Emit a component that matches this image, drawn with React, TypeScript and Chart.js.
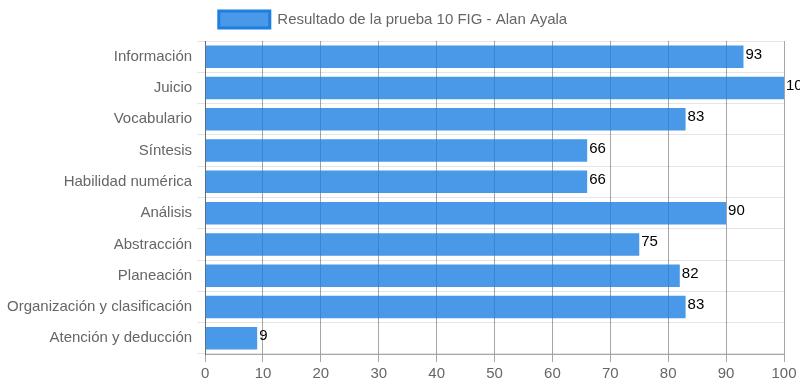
import React, { useEffect, useRef } from "react";
import { Chart, registerables } from "chart.js";

Chart.register(...registerables);

const categories = [
  "Información",
  "Juicio",
  "Vocabulario",
  "Síntesis",
  "Habilidad numérica",
  "Análisis",
  "Abstracción",
  "Planeación",
  "Organización y clasificación",
  "Atención y deducción",
];
const scores = [93, 100, 83, 66, 66, 90, 75, 82, 83, 9];
const seriesLabel = "Resultado de la prueba 10 FIG - Alan Ayala";

const FONT = "Arial, 'Liberation Sans', sans-serif";

const valueLabels = {
  id: "valueLabels",
  afterDatasetsDraw(chart: any) {
    const ctx = chart.ctx;
    const meta = chart.getDatasetMeta(0);
    ctx.save();
    ctx.fillStyle = "#000";
    ctx.font = "15px " + FONT;
    ctx.textAlign = "left";
    ctx.textBaseline = "alphabetic";
    meta.data.forEach((bar: any, i: number) => {
      ctx.fillText(String(chart.data.datasets[0].data[i]), bar.x + 2, bar.y + 2);
    });
    ctx.restore();
  },
};

const legendSpacing = {
  id: "legendSpacing",
  afterInit(chart: any) {
    const lg = chart.legend;
    if (!lg) return;
    const orig = lg.fit;
    lg.fit = function () {
      orig.call(this);
      this.height += 3;
    };
  },
};

export default function App() {
  const ref = useRef<HTMLCanvasElement>(null);
  useEffect(() => {
    document.body.style.margin = "0";
    const chart = new Chart(ref.current!, {
      type: "bar",
      data: {
        labels: categories,
        datasets: [
          {
            label: seriesLabel,
            data: scores,
            backgroundColor: "rgba(29,126,226,0.8)",
            borderColor: "rgb(29,126,226)",
            borderWidth: 0,
          },
        ],
      },
      options: {
        indexAxis: "y",
        animation: false,
        responsive: false,
        maintainAspectRatio: false,
        layout: { padding: { right: 16, top: 1, left: 2 } },
        plugins: {
          legend: {
            position: "top",
            labels: {
              boxWidth: 51,
              boxHeight: 17,
              color: "#666",
              font: { family: FONT, size: 15 },
              generateLabels: () => [
                {
                  text: seriesLabel,
                  fillStyle: "rgba(29,126,226,0.8)",
                  strokeStyle: "rgb(29,126,226)",
                  lineWidth: 3,
                  datasetIndex: 0,
                  fontColor: "#666",
                },
              ],
            },
          },
          tooltip: { enabled: false },
        },
        scales: {
          x: {
            min: 0,
            max: 100,
            ticks: {
              stepSize: 10,
              color: "#666",
              font: { family: FONT, size: 15 },
            },
            grid: { color: "rgba(0,0,0,0.35)" },
            border: { color: "rgba(0,0,0,0.35)" },
          },
          y: {
            ticks: {
              color: "#666",
              padding: 5,
              font: { family: FONT, size: 15 },
            },
            grid: { color: "rgba(0,0,0,0.1)" },
            border: { color: "rgba(0,0,0,0.35)" },
          },
        },
      },
      plugins: [valueLabels, legendSpacing],
    });
    return () => chart.destroy();
  }, []);
  return (
    <div style={{ position: "absolute", left: 0, top: 0, width: 800, height: 386 }}>
      <canvas ref={ref} width={800} height={386} />
    </div>
  );
}
